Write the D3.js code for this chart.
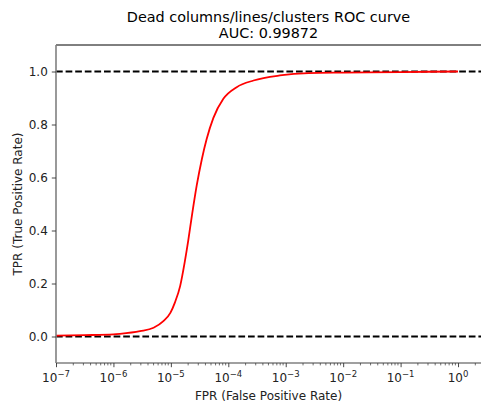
<!DOCTYPE html>
<meta charset="utf-8">
<script src="https://cdn.jsdelivr.net/npm/d3@7"></script>
<style>
body { margin: 0; background: #fff; }
svg text { font-family: "DejaVu Sans", sans-serif; }
</style>
<body>
<script>

var width = 481
var height = 405

// ROC curve
var fpr = [1e-7, 3.16e-7, 1e-6, 1.3e-6, 2.9e-6, 5e-6, 7.4e-6, 9.8e-6, 1.17e-5, 1.45e-5, 1.74e-5, 2e-5, 2.34e-5,
           2.82e-5, 3.47e-5, 4.2e-5, 5.5e-5, 8.2e-5, 1.4e-4, 2.75e-4, 7.9e-4, 2.5e-3, 1e-2, 1e-1, 1]
var tpr = [0.003, 0.005, 0.008, 0.010, 0.020, 0.033, 0.058, 0.089, 0.127, 0.19, 0.28, 0.36, 0.46,
           0.57, 0.67, 0.745, 0.825, 0.897, 0.941, 0.966, 0.985, 0.994, 0.996, 0.998, 1.0]
var refLines = [0, 1]
var yTicks = [0.0, 0.2, 0.4, 0.6, 0.8, 1.0]
var xExponents = [-7, -6, -5, -4, -3, -2, -1, 0]

var axLeft = 56, axRight = 481, axTop = 45, axBottom = 363

var x = d3.scaleLog().domain([1e-7, Math.pow(10, 0.4)]).range([axLeft, axRight])
var y = d3.scaleLinear().domain([-0.1, 1.1]).range([axBottom, axTop])

var svg = d3.select("body").append("svg")
            .attr("width", width)
            .attr("height", height)

// dashed reference lines
svg.selectAll(".ref")
   .data(refLines)
   .enter().append("line")
   .attr("class", "ref")
   .attr("x1", axLeft)
   .attr("x2", axRight)
   .attr("y1", d => y(d))
   .attr("y2", d => y(d))
   .style("stroke", "#000")
   .style("stroke-width", 1.8)
   .style("stroke-dasharray", "6.7,2.9")

var line = d3.line()
             .x(d => x(d[0]))
             .y(d => y(d[1]))
             .curve(d3.curveMonotoneX)

svg.append("path")
   .attr("d", line(d3.zip(fpr, tpr)))
   .attr("fill", "none")
   .attr("stroke", "#ff0000")
   .attr("stroke-width", 1.8)

// top spine
svg.append("line")
   .attr("x1", axLeft).attr("x2", axRight).attr("y1", axTop).attr("y2", axTop)
   .style("stroke", "#000").style("stroke-width", 1)

// y axis
var yAxis = svg.append("g")
   .attr("transform", "translate(" + axLeft + ",0)")
   .call(d3.axisLeft(y).tickValues(yTicks).tickFormat(d3.format(".1f")).tickSize(4.2).tickPadding(4))
yAxis.select(".domain").attr("d", "M0," + axTop + "V" + axBottom).style("stroke", "#808080").style("stroke-width", 1.6)
yAxis.selectAll(".tick line").style("stroke", "#333").style("stroke-width", 0.9)
yAxis.selectAll("text").style("font-size", "12px").style("fill", "#222").attr("dy", "0.36em")

// x axis
var minor = []
xExponents.forEach(function(e) {
  for (var m = 2; m < 10; m++) {
    var v = m * Math.pow(10, e)
    if (v < x.domain()[1]) minor.push(v)
  }
})

var xAxis = svg.append("g")
   .attr("transform", "translate(0," + axBottom + ")")
   .call(d3.axisBottom(x).tickValues(xExponents.map(e => Math.pow(10, e))).tickFormat("").tickSize(4.2))
xAxis.select(".domain").attr("d", "M" + axLeft + ",0H" + axRight).style("stroke", "#808080").style("stroke-width", 1.6)
xAxis.selectAll(".tick line").style("stroke", "#333").style("stroke-width", 0.9)

svg.append("g")
   .selectAll("line")
   .data(minor)
   .enter().append("line")
   .attr("x1", d => x(d)).attr("x2", d => x(d))
   .attr("y1", axBottom).attr("y2", axBottom + 2.4)
   .style("stroke", "#333").style("stroke-width", 0.7)

var xl = svg.append("g").selectAll("text")
   .data(xExponents)
   .enter().append("text")
   .attr("x", d => x(Math.pow(10, d)))
   .attr("y", axBottom + 19)
   .attr("text-anchor", "middle")
   .style("font-size", "12px")
   .style("fill", "#222")
xl.append("tspan").text("10")
xl.append("tspan")
  .attr("dy", -5)
  .style("font-size", "8.5px")
  .text(d => d < 0 ? "\u2212" + (-d) : "" + d)

// labels
svg.append("text")
   .attr("x", (axLeft + axRight) / 2)
   .attr("y", axBottom + 37)
   .attr("text-anchor", "middle")
   .style("font-size", "12px")
   .style("fill", "#222")
   .text("FPR (False Positive Rate)")

svg.append("text")
   .attr("transform", "translate(22," + ((axTop + axBottom) / 2) + ") rotate(-90)")
   .attr("text-anchor", "middle")
   .style("font-size", "12px")
   .style("fill", "#222")
   .text("TPR (True Positive Rate)")

svg.append("text")
   .attr("x", (axLeft + axRight) / 2)
   .attr("y", 22)
   .attr("text-anchor", "middle")
   .style("font-size", "14.4px")
   .text("Dead columns/lines/clusters ROC curve")

svg.append("text")
   .attr("x", (axLeft + axRight) / 2)
   .attr("y", 38)
   .attr("text-anchor", "middle")
   .style("font-size", "14.4px")
   .text("AUC: 0.99872")

</script>
</body>
